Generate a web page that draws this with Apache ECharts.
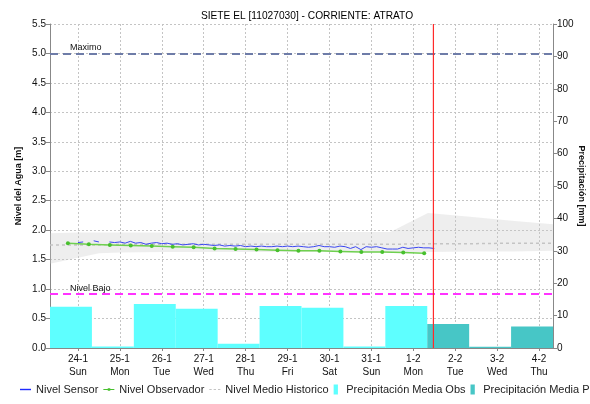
<!DOCTYPE html>
<html>
<head>
<meta charset="utf-8">
<script src="https://cdn.jsdelivr.net/npm/echarts@6/dist/echarts.min.js"></script>
<style>
	html, body { margin: 0; padding: 0; background: #fff; }
	#chart { width: 590px; height: 404px; }
</style>
</head>
<body>
<div id="chart"></div>
<script>
// x axis is in days, 0 = 24-1 label position
const dayLabels = ['24-1', '25-1', '26-1', '27-1', '28-1', '29-1', '30-1', '31-1', '1-2', '2-2', '3-2', '4-2'];
const weekDays = ['Sun', 'Mon', 'Tue', 'Wed', 'Thu', 'Fri', 'Sat', 'Sun', 'Mon', 'Tue', 'Wed', 'Thu'];
const binOffset = -0.667; // daily rain totals start 16h before the label

// daily precipitation [mm]
const precipObs = [12.7, 0.45, 13.6, 12.1, 1.3, 13.0, 12.4, 0.45, 13.0];
const precipPro = [7.4, 0.4, 6.6];

// sensor level [m], every 3 hours from day 0
const sensorStart = 0;
const sensorStep = 0.125;
const sensorLevel = [
	1.79, 1.80, null, 1.82, 1.80, null, 1.80, 1.79,
	1.80, 1.78, 1.81, 1.78, 1.79, 1.76, 1.78, 1.79,
	1.77, 1.78, 1.76, 1.77, 1.75, 1.76, 1.77, 1.75,
	1.76, 1.75, 1.74, 1.75, 1.73, 1.74, 1.73, 1.74,
	1.72, 1.73, 1.72, 1.73, 1.72, 1.72, 1.73, 1.72,
	1.73, 1.72, 1.73, 1.72, 1.71, 1.72, 1.74, 1.72,
	1.72, 1.71, 1.73, 1.72, 1.69, 1.72, 1.67, 1.72,
	1.71, 1.72, 1.70, 1.68, 1.68, 1.68, 1.71, 1.69,
	1.70, 1.71, 1.70, 1.70, 1.69
];

// observer readings [m], twice a day
const obsStart = -0.24;
const obsStep = 0.5;
const obsLevel = [1.78, 1.76, 1.75, 1.74, 1.73, 1.72, 1.71, 1.69, 1.68, 1.67, 1.66, 1.65, 1.65, 1.64, 1.63, 1.63, 1.62, 1.61];

// historic band
const histDays = [-0.667, 0, 0.5, 1, 2, 3, 4, 5, 6, 7, 7.45, 8.35, 9.35, 10.35, 11.333];
const histLow = [1.43, 1.53, 1.61, 1.62, 1.63, 1.63, 1.63, 1.63, 1.63, 1.63, 1.63, 1.63, 1.64, 1.64, 1.65];
const histHigh = [1.95, 1.96, 1.96, 1.96, 1.96, 1.96, 1.96, 1.96, 1.97, 1.97, 1.97, 2.29, 2.23, 2.16, 2.10];
const histMean = [1.75, 1.75, 1.75, 1.76, 1.76, 1.76, 1.76, 1.76, 1.76, 1.76, 1.76, 1.77, 1.77, 1.78, 1.78];

const levelMax = 5.0;
const levelLow = 0.92;
const nowDay = 8.48;

const font = "'Liberation Sans', Arial, sans-serif";
const chart = echarts.init(document.getElementById('chart'), null, { renderer: 'canvas' });

const sensorData = sensorLevel.map((v, i) => [sensorStart + i * sensorStep, v]);
const obsData = obsLevel.map((v, i) => [obsStart + i * obsStep, v]);
const obsBins = precipObs.map((v, i) => [i + binOffset, i + 1 + binOffset, v]);
const proBins = precipPro.map((v, i) => [precipObs.length + i + binOffset, precipObs.length + i + 1 + binOffset, v]);

const renderBin = (color) => (params, api) => {
	const p0 = api.coord([api.value(0), api.value(2)]);
	const p1 = api.coord([api.value(1), 0]);
	return {
		type: 'rect',
		shape: { x: p0[0], y: p0[1], width: p1[0] - p0[0], height: p1[1] - p0[1] },
		style: { fill: color },
	};
};

// one polygon for the historic min/max envelope
const renderBand = (params, api) => {
	const top = histDays.map((d, i) => api.coord([d, histHigh[i]]));
	const bottom = histDays.map((d, i) => api.coord([d, histLow[i]])).reverse();
	return {
		type: 'polygon',
		shape: { points: top.concat(bottom) },
		style: { fill: 'rgba(200,200,200,0.3)' },
	};
};

// vertical "now" line across the whole plot
const renderNow = (params, api) => {
	const x = api.coord([api.value(0), 0])[0];
	const cs = params.coordSys;
	return {
		type: 'line',
		shape: { x1: x, y1: cs.y, x2: x, y2: cs.y + cs.height },
		style: { stroke: '#ff2a2a', lineWidth: 1.2 },
	};
};

const gridLine = { show: true, lineStyle: { color: '#c4c4c4', type: [2, 2], width: 1 } };
const axisGrey = { show: true, onZero: false, lineStyle: { color: '#888', width: 1 } };

const option = {
	animation: false,
	textStyle: { fontFamily: font },
	title: {
		text: 'SIETE EL [11027030] - CORRIENTE: ATRATO',
		left: 302,
		textAlign: 'center',
		top: 6,
		textStyle: { fontSize: 10.2, fontWeight: 'normal', color: '#000', fontFamily: font },
	},
	legend: {
		left: 15,
		bottom: 4,
		width: 900,
		itemWidth: 11,
		itemHeight: 10,
		itemGap: 5,
		textStyle: { fontSize: 11, color: '#222', fontFamily: font },
		data: [
			{ name: 'Nivel Sensor', icon: 'path://M0,0h14v1.8h-14z' },
			{ name: 'Nivel Observador', icon: 'path://M0,2h14v1.4h-14zM5.6,1.1h3.2v3.2h-3.2z' },
			{ name: 'Nivel Medio Historico', icon: 'path://M0,0h3v1.4h-3zM5.5,0h3v1.4h-3zM11,0h3v1.4h-3z' },
			{ name: 'Precipitación Media Obs', icon: 'path://M0,0h6v14h-6z' },
			{ name: 'Precipitación Media Pro', icon: 'path://M0,0h6v14h-6z' },
		],
	},
	grid: { left: 50, right: 37, top: 24, bottom: 56, outerBoundsMode: 'none', containLabel: false },
	xAxis: {
		type: 'value',
		min: binOffset,
		max: dayLabels.length + binOffset,
		axisLine: { show: true, onZero: false, lineStyle: { color: '#888' } },
		axisTick: { show: true, length: 3, customValues: dayLabels.map((d, i) => i), lineStyle: { color: '#888' } },
		axisLabel: {
			customValues: dayLabels.map((d, i) => i),
			fontSize: 10,
			color: '#111',
			lineHeight: 13,
			margin: 5,
			formatter: (v) => {
				const k = Math.round(v);
				return dayLabels[k] + '\n' + weekDays[k];
			},
		},
		splitLine: gridLine,
	},
	yAxis: [
		{
			type: 'value',
			min: 0,
			max: 5.5,
			interval: 0.5,
			name: 'Nivel del Agua [m]',
			nameLocation: 'middle',
			nameMoveOverlap: false,
			nameGap: 27,
			nameTextStyle: { fontSize: 9, fontWeight: 'bold', color: '#111' },
			axisLine: axisGrey,
			axisTick: { show: true, length: 4, lineStyle: { color: '#888' } },
			axisLabel: { fontSize: 10, color: '#111', margin: 4, formatter: (v) => v.toFixed(1) },
			splitLine: gridLine,
		},
		{
			type: 'value',
			min: 0,
			max: 100,
			interval: 10,
			name: 'Precipitación [mm]',
			nameLocation: 'middle',
			nameMoveOverlap: false,
			nameGap: 24,
			nameRotate: -90,
			nameTextStyle: { fontSize: 9, fontWeight: 'bold', color: '#111' },
			axisLine: axisGrey,
			axisTick: { show: true, length: 4, lineStyle: { color: '#888' } },
			axisLabel: { fontSize: 10, color: '#111', margin: 4 },
			splitLine: { show: false },
		},
	],
	series: [
		{
			name: 'Precipitación Media Obs',
			type: 'custom',
			yAxisIndex: 1,
			itemStyle: { color: '#5effff' },
			renderItem: renderBin('#5effff'),
			encode: { x: [0, 1], y: 2 },
			data: obsBins,
			z: 1,
		},
		{
			name: 'Precipitación Media Pro',
			type: 'custom',
			yAxisIndex: 1,
			itemStyle: { color: '#47c6c6' },
			renderItem: renderBin('#47c6c6'),
			encode: { x: [0, 1], y: 2 },
			data: proBins,
			z: 1,
		},
		{
			name: 'histBand',
			type: 'custom',
			renderItem: renderBand,
			silent: true,
			data: [[histDays[0], histLow[0]]],
			z: 2,
		},
		{
			name: 'Nivel Medio Historico',
			type: 'line',
			symbol: 'none',
			itemStyle: { color: '#c4c4c4' },
			lineStyle: { color: '#c4c4c4', width: 1.5, type: [3, 3] },
			data: histDays.map((d, i) => [d, histMean[i]]),
			z: 3,
			markLine: {
				silent: true,
				symbol: 'none',
				data: [
					{
						yAxis: levelMax,
						lineStyle: { color: '#6e7ca8', width: 2, type: [8, 5] },
						label: { show: true, formatter: 'Maximo', position: 'insideStartTop', distance: [20, 1], fontSize: 9, color: '#111' },
					},
					{
						yAxis: levelLow,
						lineStyle: { color: '#ff33ff', width: 2, type: [8, 5] },
						label: { show: true, formatter: 'Nivel Bajo', position: 'insideStartTop', distance: [20, 1], fontSize: 9, color: '#111' },
					},
				],
			},
		},
		{
			name: 'Nivel Observador',
			type: 'line',
			symbol: 'circle',
			symbolSize: 4,
			itemStyle: { color: '#48c02e' },
			lineStyle: { color: '#6fd04f', width: 1.5 },
			data: obsData,
			z: 4,
		},
		{
			name: 'Nivel Sensor',
			type: 'line',
			symbol: 'none',
			connectNulls: false,
			itemStyle: { color: '#1f2bff' },
			lineStyle: { color: '#3a46f0', width: 1 },
			data: sensorData,
			z: 5,
		},
		{
			name: 'ahora',
			type: 'custom',
			silent: true,
			renderItem: renderNow,
			encode: { x: 0 },
			data: [[nowDay]],
			z: 6,
		},
	],
};

chart.setOption(option);
</script>
</body>
</html>
